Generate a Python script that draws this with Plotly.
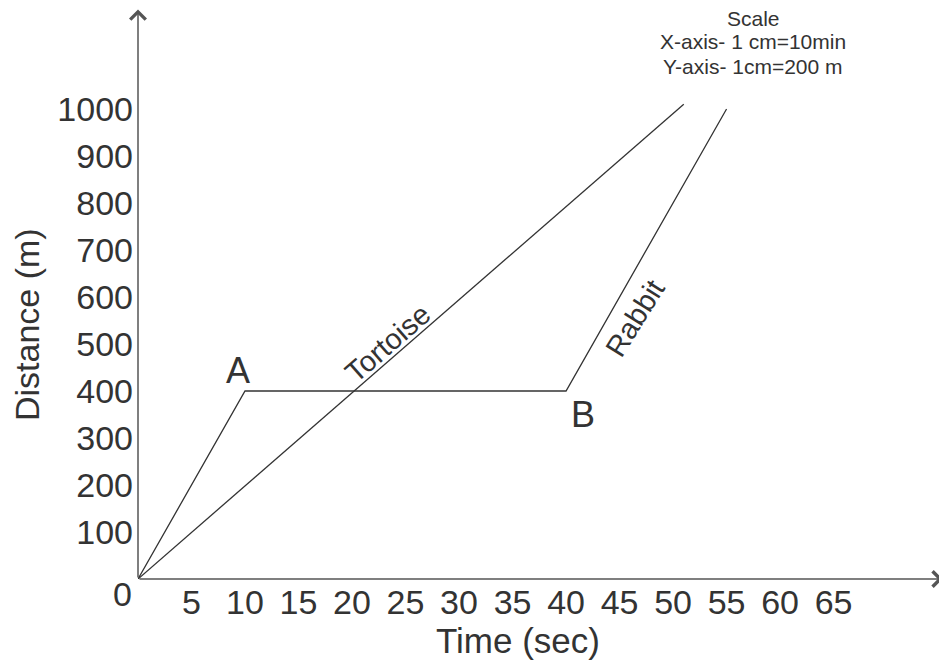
import plotly.graph_objects as go

# Data
rabbit_time = [0, 10, 40, 55]
rabbit_dist = [0, 400, 400, 1000]
tortoise_time = [0, 51]
tortoise_dist = [0, 1010]

x_ticks = [5, 10, 15, 20, 25, 30, 35, 40, 45, 50, 55, 60, 65]
y_ticks = [100, 200, 300, 400, 500, 600, 700, 800, 900, 1000]

scale_lines = ["Scale", "X-axis- 1 cm=10min", "Y-axis- 1cm=200 m"]

FONT = "Liberation Sans, Arial, sans-serif"
TXT = "#333333"
LINE = "#333333"
AXC = "#555555"

# the page has an 8px body margin, so the figure is sized to fit the window
OFF = 8
W, H = 947 - OFF, 664 - OFF
ML, MB = 138 - OFF, 85
PW, PH = W - ML, H - MB
X_MAX = 75.6
Y_MAX = 1215


def px(page_x):
    return (page_x - OFF - ML) / PW


def py(page_y):
    return (PH - (page_y - OFF)) / PH


def label(x, y, text, size, angle=0):
    return dict(x=px(x), y=py(y), xref="paper", yref="paper", text=text,
                showarrow=False, xanchor="center", yanchor="middle",
                textangle=angle, font=dict(family=FONT, size=size, color=TXT))


fig = go.Figure()
fig.add_trace(go.Scatter(x=rabbit_time, y=rabbit_dist, mode="lines",
                         line=dict(color=LINE, width=1.3), name="Rabbit",
                         showlegend=False, cliponaxis=False))
fig.add_trace(go.Scatter(x=tortoise_time, y=tortoise_dist, mode="lines",
                         line=dict(color=LINE, width=1.3), name="Tortoise",
                         showlegend=False, cliponaxis=False))

ann = []
# axis arrows
ann.append(dict(x=75.2, y=0, ax=0, ay=0, xref="x", yref="y", axref="x", ayref="y",
                showarrow=True, arrowhead=4, arrowsize=2, arrowwidth=1.5,
                arrowcolor=AXC, text=""))
ann.append(dict(x=0, y=1212, ax=0, ay=0, xref="x", yref="y", axref="x", ayref="y",
                showarrow=True, arrowhead=4, arrowsize=2, arrowwidth=1.5,
                arrowcolor=AXC, text=""))
# origin label
ann.append(label(122, 594, "0", 34))
# axis titles
ann.append(label(518, 640, "Time (sec)", 35))
ann.append(label(27, 325, "Distance (m)", 34, -90))
# scale text
for txt, yy in zip(scale_lines, [18, 42, 66]):
    ann.append(label(753, yy, txt, 21))
# point labels
ann.append(label(238, 370, "A", 36))
ann.append(label(583, 414, "B", 36))
ann.append(label(388, 343, "Tortoise", 29, -41))
ann.append(label(635, 318, "Rabbit", 29, -58))

fig.update_layout(
    width=W, height=H,
    margin=dict(l=ML, r=0, t=0, b=MB, autoexpand=False),
    paper_bgcolor="white", plot_bgcolor="white",
    annotations=ann,
    xaxis=dict(range=[0, X_MAX], showgrid=False, zeroline=False, showline=False,
               ticks="", tickvals=x_ticks, ticktext=[str(v) for v in x_ticks],
               tickfont=dict(family=FONT, size=34, color=TXT), fixedrange=True,
               automargin=False),
    yaxis=dict(range=[0, Y_MAX], showgrid=False, zeroline=False, showline=False,
               ticks="", tickvals=y_ticks, ticktext=[str(v) for v in y_ticks],
               ticklabelstandoff=4,
               tickfont=dict(family=FONT, size=34, color=TXT), fixedrange=True,
               automargin=False),
)

fig.write_html("out.html")
